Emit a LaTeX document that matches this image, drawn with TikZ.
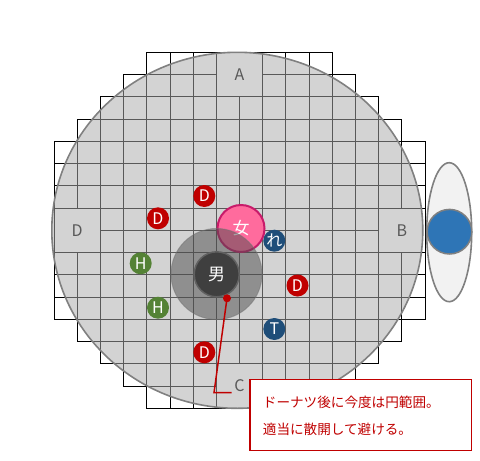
\documentclass[tikz,border=0pt]{standalone}
\usepackage{fontspec}
\setmainfont{Noto Sans CJK JP}
\definecolor{circfill}{gray}{0.67}
\definecolor{circline}{HTML}{808080}
\definecolor{labgray}{HTML}{595959}
\definecolor{dred}{HTML}{C00000}
\definecolor{hgreen}{HTML}{548235}
\definecolor{tblue}{HTML}{1F4E79}
\definecolor{pinkfill}{HTML}{FF6B9D}
\definecolor{pinkline}{HTML}{C81B6A}
\definecolor{manfill}{HTML}{3F3F3F}
\definecolor{bluefill}{HTML}{2E75B6}
\definecolor{boxred}{HTML}{C00000}
\begin{document}
\begin{tikzpicture}[x=1pt,y=-1pt,
  cell/.style={draw=black,line width=0.9pt},
  biglab/.style={text=labgray,font=\fontsize{16}{16}\selectfont,inner sep=0pt},
  ball/.style={circle,minimum size=22pt,inner sep=0pt,text=white,font=\fontsize{16}{16}\selectfont},
  dball/.style={ball,fill=dred},
  hball/.style={ball,fill=hgreen},
  tball/.style={ball,fill=tblue},
  note/.style={text=boxred,font=\fontsize{13.6}{13.6}\selectfont,inner sep=0pt,anchor=west}
]
\useasboundingbox (0,0) rectangle (480,461);
\def\gx{54}\def\gy{52.3}\def\cw{23.19}\def\ch{22.25}
% grid
\foreach \r/\s in {0/4,1/3,2/2,3/1,4/0,5/0,6/0,7/0,8/0,9/0,10/0,11/0,12/1,13/2,14/3,15/4}{
  \pgfmathtruncatemacro\e{15-\s}
  \foreach \c in {\s,...,\e}{
    \pgfmathtruncatemacro\myskip{((\c==7||\c==8)&&(\r<2||\r>13))||((\c<2||\c>13)&&(\r==7||\r==8))}
    \ifnum\myskip=0
      \draw[cell] ({\gx+\c*\cw},{\gy+\r*\ch}) rectangle ++(\cw,\ch);
    \fi
  }
}
\draw[cell] ({\gx+7*\cw},{\gy}) rectangle ++({2*\cw},{2*\ch});
\draw[cell] ({\gx+7*\cw},{\gy+14*\ch}) rectangle ++({2*\cw},{2*\ch});
\draw[cell] ({\gx},{\gy+7*\ch}) rectangle ++({2*\cw},{2*\ch});
\draw[cell] ({\gx+14*\cw},{\gy+7*\ch}) rectangle ++({2*\cw},{2*\ch});
% big circle
\fill[circfill,fill opacity=0.52] (237.3,230.3) ellipse [x radius=185.5, y radius=178];
\draw[circline,line width=1.6pt] (237.3,230.3) ellipse [x radius=185.5, y radius=178];
% labels
\node[biglab] (A) at ({\gx+8*\cw},{\gy+\ch}) {A};
\node[biglab] (B) at ({\gx+15*\cw},{\gy+8*\ch}) {B};
\node[biglab] (C) at ({\gx+8*\cw},{\gy+15*\ch}) {C};
\node[biglab] (D) at ({\gx+\cw},{\gy+8*\ch}) {D};
% woman
\node[circle,minimum size=47pt,inner sep=0pt,fill=pinkfill,draw=pinkline,line width=2pt,text=white,font=\fontsize{17}{17}\selectfont] (woman) at (241,228.5) {女};
% donut
\node[circle,minimum size=91pt,inner sep=0pt,fill=black!70,fill opacity=0.5,draw=black!55,draw opacity=0.5,line width=1pt] (donut) at (216.5,274) {};
% man
\node[circle,minimum size=45pt,inner sep=0pt,fill=manfill,draw=black!62,line width=1.5pt,text=white,font=\fontsize{17}{17}\selectfont] (man) at (216.7,274.3) {男};
% small balls
\node[dball] (d1) at (204.3,196) {D};
\node[dball] (d2) at (158,218.3) {D};
\node[dball] (d3) at (297.5,285.5) {D};
\node[dball] (d4) at (204.3,352.3) {D};
\node[hball] (h1) at (140.7,263.3) {H};
\node[hball] (h2) at (158,307.7) {H};
\node[tball] (t1) at (274.3,329) {T};
\node[tball] (re) at (274.3,240.7) {れ};
% right ellipse
\draw[fill=black!5,draw=circline,line width=1.6pt] (449.2,232.2) ellipse [x radius=22.5, y radius=69.5];
\node[circle,minimum size=44.6pt,inner sep=0pt,fill=bluefill,draw=circline,line width=1.5pt] (blue) at (449.5,231.7) {};
% callout
\node[circle,minimum size=8pt,inner sep=0pt,fill=dred] (dot) at (227,298.3) {};
\coordinate (bend) at (214,392.7);
\coordinate (lend) at (231.7,392.7);
\draw[dred,line width=1.5pt] (dot.center) -- (bend) -- (lend);
\node[draw=boxred,line width=1.3pt,fill=white,minimum width=221.7pt,minimum height=71.4pt,inner sep=0pt] (box) at (360.85,415) {};
\node[note] (n1) at (262.7,402.7) {ドーナツ後に今度は円範囲。};
\node[note] (n2) at (262.7,429.3) {適当に散開して避ける。};
\end{tikzpicture}
\end{document}
